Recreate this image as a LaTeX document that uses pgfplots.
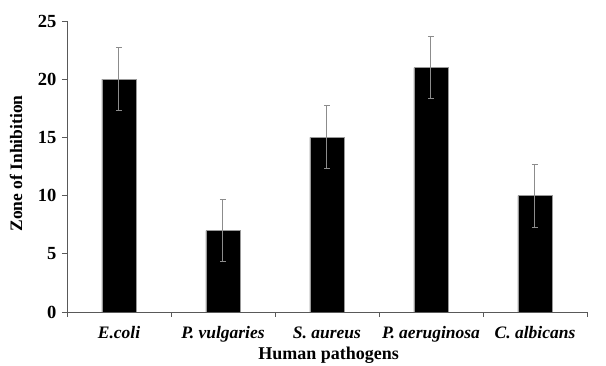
\documentclass[border=0pt]{standalone}
\usepackage{fontspec}
\setmainfont{Liberation Serif}
\usepackage{pgfplots}
\pgfplotsset{compat=1.18}
\begin{document}
\begin{tikzpicture}
\useasboundingbox (-67pt,-54pt) rectangle (539pt,312pt);
\begin{axis}[
  at={(0pt,0pt)}, anchor=south west,
  scale only axis, width=520pt, height=291pt,
  xmin=-0.5, xmax=4.5, ymin=0, ymax=25,
  axis x line*=bottom, axis y line*=left,
  axis line style={black!65, line width=0.9pt},
  tick style={black!65, line width=0.9pt},
  tick align=outside, major tick length=5pt,
  ytick={0,5,...,25},
  /pgf/number format/assume math mode=true,
  yticklabel style={font=\fontsize{18.5}{20}\selectfont\bfseries, xshift=-2pt},
  xtick={0,...,4},
  xticklabels={E.coli, P. vulgaries, S. aureus, P. aeruginosa, C. albicans},
  xticklabel style={font=\fontsize{17.5}{19}\selectfont\bfseries\itshape, yshift=-6pt},
  major x tick style={draw=none},
  extra x ticks={-0.5,0.5,1.5,2.5,3.5,4.5},
  extra x tick labels={},
  extra x tick style={major x tick style={draw=black!65, line width=0.9pt}, major tick length=5pt},
  xlabel={Human pathogens},
  ylabel={Zone of Inhibition},
  xlabel style={font=\fontsize{18}{20}\selectfont\bfseries, at={(axis description cs:0.503,-0.148)}, anchor=center},
  ylabel style={font=\fontsize{17.5}{20}\selectfont\bfseries, at={(axis description cs:-0.098,0.51)}, anchor=center, rotate=0},
]
\addplot[ybar, bar width=34pt, fill=black, draw=black!40, line width=0.5pt,
  error bars/.cd, y dir=both, y explicit,
  error bar style={black!45, line width=1pt},
  error mark options={rotate=90, mark size=3pt, black!45, line width=1pt}]
  coordinates {
  (0,20) +- (0,2.7)
  (1,7) +- (0,2.7)
  (2,15) +- (0,2.7)
  (3,21) +- (0,2.7)
  (4,10) +- (0,2.7)
};
\end{axis}
\end{tikzpicture}
\end{document}
